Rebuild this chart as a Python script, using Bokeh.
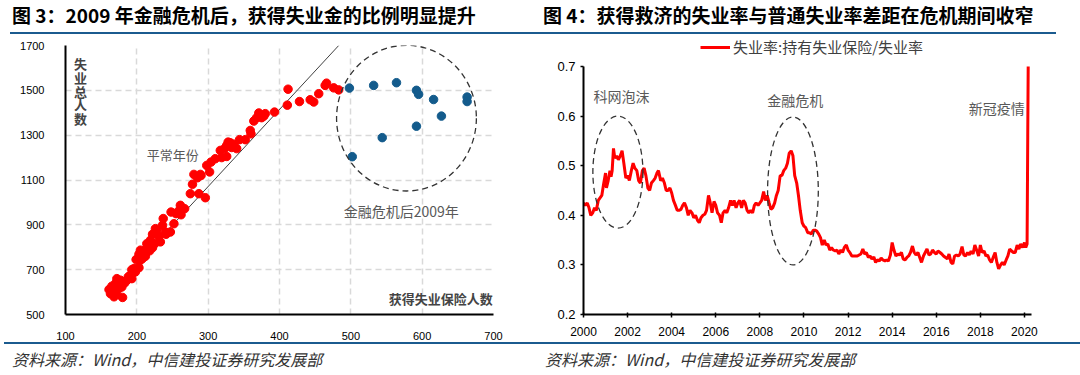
from bokeh.plotting import figure
from bokeh.models import Range1d, Label, Div, Legend, LegendItem, FixedTicker
from bokeh.layouts import row, column
from bokeh.embed import file_html
from bokeh.resources import INLINE

# ---------------- data: left panel (scatter) ----------------
normal_x = [412, 411, 428, 443, 448, 455, 464, 466, 476, 483, 393, 380, 371, 368, 375,
            364, 359, 360, 352, 344, 331, 326, 328, 323, 317, 326, 319, 310, 304, 298,
            302, 289, 280, 285, 278, 275, 287, 296, 267, 261, 255, 248, 252, 247, 241,
            237, 236, 226, 222, 231, 233, 225, 222, 218, 214, 210, 205, 203, 205, 199,
            203, 193, 198, 191, 193, 186, 183, 179, 172, 170, 165, 161, 163, 168, 170,
            175, 180, 173, 167, 177, 214, 219, 228, 212, 208, 196, 188, 171, 166, 240,
            258, 262, 290, 336, 333, 378, 340]
normal_y = [1505, 1434, 1450, 1458, 1448, 1485, 1522, 1532, 1511, 1502, 1403, 1396, 1399, 1378, 1378,
            1363, 1321, 1306, 1280, 1280, 1266, 1254, 1269, 1240, 1232, 1205, 1200, 1195, 1180, 1165,
            1136, 1125, 1125, 1110, 1081, 1039, 1039, 1021, 972, 987, 950, 957, 905, 868, 858,
            928, 898, 883, 858, 849, 824, 816, 798, 784, 794, 772, 787, 769, 742, 745,
            709, 700, 690, 675, 660, 653, 641, 623, 660, 638, 626, 611, 593, 579, 601,
            616, 576, 623, 608, 653, 816, 831, 876, 760, 750, 705, 668, 590, 605, 868,
            960, 945, 1120, 1260, 1245, 1385, 1240]
crisis_x = [498, 532, 564, 592, 595, 616, 627, 663, 663, 592, 544, 502]
crisis_y = [1510, 1522, 1534, 1500, 1482, 1459, 1385, 1470, 1450, 1340, 1289, 1204]
fit_x = [163, 483]
fit_y = [600, 1700]
circle_center = (578, 1376)
circle_size = (196, 650)
x_ticks_left = [100, 200, 300, 400, 500, 600, 700]
y_ticks_left = [500, 700, 900, 1100, 1300, 1500, 1700]

# ---------------- data: right panel (line) ----------------
t_year = [2000.00, 2000.08, 2000.17, 2000.25, 2000.33, 2000.42, 2000.50, 2000.58, 2000.67, 2000.75,
          2000.83, 2000.92, 2001.00, 2001.04, 2001.12, 2001.20, 2001.25, 2001.30, 2001.36, 2001.42,
          2001.50, 2001.58, 2001.67, 2001.75, 2001.83, 2001.92, 2002.00, 2002.08, 2002.17, 2002.25,
          2002.33, 2002.42, 2002.50, 2002.58, 2002.67, 2002.75, 2002.83, 2002.92, 2003.00, 2003.08,
          2003.17, 2003.25, 2003.33, 2003.40, 2003.50, 2003.58, 2003.67, 2003.75, 2003.83, 2003.92,
          2004.00, 2004.08, 2004.17, 2004.25, 2004.33, 2004.42, 2004.50, 2004.58, 2004.67, 2004.75,
          2004.83, 2004.92, 2005.00, 2005.08, 2005.17, 2005.25, 2005.33, 2005.42, 2005.50, 2005.58,
          2005.67, 2005.75, 2005.83, 2005.92, 2006.00, 2006.08, 2006.17, 2006.25, 2006.33, 2006.42,
          2006.50, 2006.58, 2006.67, 2006.75, 2006.83, 2006.92, 2007.00, 2007.08, 2007.17, 2007.25,
          2007.33, 2007.42, 2007.50, 2007.58, 2007.67, 2007.75, 2007.83, 2007.92, 2008.00, 2008.08,
          2008.17, 2008.25, 2008.33, 2008.42, 2008.50, 2008.58, 2008.67, 2008.75, 2008.83, 2008.92,
          2009.00, 2009.08, 2009.17, 2009.25, 2009.33, 2009.42, 2009.50, 2009.58, 2009.67, 2009.75,
          2009.83, 2009.92, 2010.00, 2010.08, 2010.17, 2010.25, 2010.33, 2010.42, 2010.50, 2010.58,
          2010.67, 2010.75, 2010.83, 2010.92, 2011.00, 2011.08, 2011.17, 2011.25, 2011.33, 2011.42,
          2011.50, 2011.58, 2011.67, 2011.75, 2011.83, 2011.92, 2012.00, 2012.08, 2012.17, 2012.25,
          2012.33, 2012.42, 2012.50, 2012.58, 2012.67, 2012.75, 2012.83, 2012.92, 2013.00, 2013.08,
          2013.17, 2013.25, 2013.33, 2013.42, 2013.50, 2013.58, 2013.67, 2013.75, 2013.83, 2013.92,
          2014.00, 2014.08, 2014.17, 2014.25, 2014.33, 2014.42, 2014.50, 2014.58, 2014.67, 2014.75,
          2014.83, 2014.92, 2015.00, 2015.08, 2015.17, 2015.25, 2015.33, 2015.42, 2015.50, 2015.58,
          2015.67, 2015.75, 2015.83, 2015.92, 2016.00, 2016.08, 2016.17, 2016.25, 2016.33, 2016.42,
          2016.50, 2016.58, 2016.67, 2016.75, 2016.83, 2016.92, 2017.00, 2017.08, 2017.17, 2017.25,
          2017.33, 2017.42, 2017.50, 2017.58, 2017.67, 2017.75, 2017.83, 2017.92, 2018.00, 2018.08,
          2018.17, 2018.25, 2018.33, 2018.42, 2018.50, 2018.58, 2018.67, 2018.75, 2018.83, 2018.92,
          2019.00, 2019.08, 2019.17, 2019.25, 2019.33, 2019.42, 2019.50, 2019.58, 2019.67, 2019.75,
          2019.83, 2019.92, 2020.00, 2020.06, 2020.12, 2020.15, 2020.17]
ratio = [0.425, 0.420, 0.425, 0.415, 0.400, 0.405, 0.415, 0.410, 0.430, 0.435,
         0.440, 0.465, 0.485, 0.455, 0.470, 0.490, 0.478, 0.490, 0.535, 0.515,
         0.520, 0.512, 0.520, 0.530, 0.505, 0.475, 0.480, 0.470, 0.490, 0.505,
         0.495, 0.490, 0.470, 0.465, 0.490, 0.495, 0.480, 0.455, 0.450, 0.465,
         0.470, 0.475, 0.485, 0.490, 0.470, 0.475, 0.465, 0.450, 0.450, 0.455,
         0.445, 0.430, 0.420, 0.410, 0.410, 0.412, 0.420, 0.425, 0.415, 0.400,
         0.410, 0.405, 0.395, 0.400, 0.390, 0.385, 0.395, 0.400, 0.402, 0.410,
         0.440, 0.425, 0.405, 0.428, 0.420, 0.405, 0.400, 0.385, 0.405, 0.410,
         0.405, 0.415, 0.430, 0.420, 0.430, 0.415, 0.425, 0.430, 0.415, 0.430,
         0.425, 0.410, 0.405, 0.410, 0.405, 0.420, 0.425, 0.420, 0.425, 0.430,
         0.448, 0.430, 0.440, 0.425, 0.412, 0.415, 0.425, 0.440, 0.450, 0.480,
         0.480, 0.490, 0.495, 0.505, 0.525, 0.530, 0.520, 0.480, 0.465, 0.440,
         0.410, 0.385, 0.378, 0.375, 0.365, 0.365, 0.362, 0.370, 0.370, 0.368,
         0.362, 0.355, 0.340, 0.350, 0.340, 0.342, 0.330, 0.335, 0.330, 0.328,
         0.330, 0.322, 0.330, 0.325, 0.335, 0.340, 0.330, 0.325, 0.318, 0.318,
         0.318, 0.318, 0.320, 0.322, 0.332, 0.322, 0.325, 0.315, 0.318, 0.312,
         0.316, 0.305, 0.310, 0.308, 0.314, 0.310, 0.308, 0.310, 0.308, 0.320,
         0.345, 0.330, 0.318, 0.322, 0.320, 0.325, 0.312, 0.310, 0.315, 0.318,
         0.325, 0.338, 0.325, 0.320, 0.325, 0.315, 0.305, 0.318, 0.325, 0.332,
         0.320, 0.322, 0.330, 0.325, 0.322, 0.328, 0.325, 0.322, 0.318, 0.315,
         0.312, 0.322, 0.305, 0.302, 0.318, 0.320, 0.318, 0.322, 0.337, 0.320,
         0.318, 0.325, 0.320, 0.328, 0.322, 0.340, 0.330, 0.318, 0.340, 0.325,
         0.328, 0.318, 0.320, 0.310, 0.305, 0.315, 0.325, 0.305, 0.292, 0.300,
         0.305, 0.300, 0.310, 0.318, 0.332, 0.328, 0.325, 0.325, 0.340, 0.332,
         0.342, 0.335, 0.345, 0.335, 0.342, 0.560, 0.700]
x_ticks_right = [2000, 2002, 2004, 2006, 2008, 2010, 2012, 2014, 2016, 2018, 2020]
y_ticks_right = [0.2, 0.3, 0.4, 0.5, 0.6, 0.7]
ellipse_dotcom = (2001.56, 0.487, 2.27, 0.226)
ellipse_gfc = (2009.50, 0.449, 2.30, 0.298)

title_left = "图 3：2009 年金融危机后，获得失业金的比例明显提升"
title_right = "图 4：获得救济的失业率与普通失业率差距在危机期间收窄"
source_text = "资料来源：Wind，中信建投证券研究发展部"
legend_label = "失业率:持有失业保险/失业率"
y_label_chars = ["失", "业", "总", "人", "数"]

CJK = "Noto Sans CJK SC"
NUM = "Liberation Sans"
RULE = "#1B5B8F"


def title_div(text, left_margin, line_width, pad):
    html = (f'<div style="box-sizing:border-box;margin-left:{left_margin}px;width:{line_width}px;height:34px;'
            f'border-bottom:2.5px solid {RULE};font-family:\'{CJK}\';font-weight:bold;font-size:19px;'
            f'line-height:30px;padding-left:{pad}px;color:#000;white-space:nowrap;overflow:hidden">{text}</div>')
    return Div(text=html, width=540, height=34, margin=0)


def source_div(text, left_margin, line_width, pad):
    html = (f'<div style="box-sizing:border-box;margin-left:{left_margin}px;width:{line_width}px;height:33px;'
            f'border-top:2.5px solid {RULE};font-family:\'{CJK}\';font-style:italic;font-size:16px;'
            f'line-height:30px;padding-left:{pad}px;color:#333;white-space:nowrap;overflow:hidden">{text}</div>')
    return Div(text=html, width=540, height=33, margin=0)


# ---------------- left figure ----------------
p1 = figure(width=540, height=308, output_backend="svg", toolbar_location=None,
            x_range=Range1d(100, 700), y_range=Range1d(500, 1700),
            min_border_left=65, min_border_right=47, min_border_top=11, min_border_bottom=28)
p1.outline_line_color = None
p1.background_fill_color = "white"
for ax in (p1.xaxis[0], p1.yaxis[0]):
    ax.axis_line_color = "black"
    ax.axis_line_width = 2
    ax.major_tick_line_color = None
    ax.minor_tick_line_color = None
    ax.major_label_text_font = NUM
    ax.major_label_text_font_size = "11px"
    ax.major_label_text_color = "#000"
p1.xaxis.ticker = FixedTicker(ticks=x_ticks_left)
p1.yaxis.ticker = FixedTicker(ticks=y_ticks_left)
p1.xaxis.major_label_standoff = 11
p1.yaxis.major_label_standoff = 15
p1.xgrid.ticker = FixedTicker(ticks=x_ticks_left[1:])
p1.ygrid.ticker = FixedTicker(ticks=y_ticks_left[1:])
for g in (p1.xgrid[0], p1.ygrid[0]):
    g.grid_line_color = "#D9D9D9"
    g.grid_line_width = 1.5
    g.grid_line_dash = "6 4"

p1.line(fit_x, fit_y, line_color="#404040", line_width=1)
p1.scatter(normal_x, normal_y, size=8.5, fill_color="#FF0000", line_color="#FF0000")
p1.scatter(crisis_x, crisis_y, size=8.5, fill_color="#135B8C", line_color="#135B8C")
p1.ellipse(x=[circle_center[0]], y=[circle_center[1]], width=circle_size[0], height=circle_size[1],
           fill_color=None, line_color="#333", line_width=1.3, line_dash="6 4")

for i, ch in enumerate(y_label_chars):
    p1.add_layout(Label(x=112, y=1660 - i * 61, text=ch, text_font=CJK, text_font_size="13px",
                        text_font_style="bold", text_baseline="top", text_align="left"))
p1.add_layout(Label(x=699, y=527, text="获得失业保险人数", text_font=CJK, text_font_size="13px",
                    text_font_style="bold", text_baseline="bottom", text_align="right"))
p1.add_layout(Label(x=214, y=1214, text="平常年份", text_font=CJK, text_font_size="13px",
                    text_color="#595959", text_baseline="middle", text_align="left"))
p1.add_layout(Label(x=490, y=960, text="金融危机后2009年", text_font=CJK, text_font_size="14px",
                    text_color="#595959", text_baseline="middle", text_align="left"))

# ---------------- right figure ----------------
# frame extends above 0.7 so the legend can sit inside it; the y axis line stops at 0.7
p2 = figure(width=540, height=308, output_backend="svg", toolbar_location=None,
            x_range=Range1d(2000, 2020.32), y_range=Range1d(0.2, 0.7645),
            min_border_left=43, min_border_right=49, min_border_top=0, min_border_bottom=28)
p2.outline_line_color = None
p2.xgrid.grid_line_color = None
p2.ygrid.grid_line_color = None
for ax in (p2.xaxis[0], p2.yaxis[0]):
    ax.axis_line_color = "black"
    ax.axis_line_width = 2
    ax.major_tick_line_color = "black"
    ax.major_tick_line_width = 1.5
    ax.minor_tick_line_color = None
    ax.major_label_text_font = NUM
    ax.major_label_text_color = "#000"
p2.xaxis.ticker = FixedTicker(ticks=x_ticks_right)
p2.yaxis.ticker = FixedTicker(ticks=y_ticks_right)
p2.yaxis.bounds = (0.2, 0.7)
p2.xaxis.major_tick_in = 2
p2.xaxis.major_tick_out = 3
p2.yaxis.major_tick_in = 0
p2.yaxis.major_tick_out = 3
p2.xaxis.major_label_text_font_size = "12px"
p2.yaxis.major_label_text_font_size = "13px"
p2.xaxis.major_label_standoff = 9
p2.yaxis.major_label_standoff = 5

r_line = p2.line(t_year, ratio, line_color="#FF0000", line_width=3)
for cx, cy, w, h in (ellipse_dotcom, ellipse_gfc):
    p2.ellipse(x=[cx], y=[cy], width=w, height=h, fill_color=None,
               line_color="#333", line_width=1.3, line_dash="6 4")

for x, y, t in ((2000.45, 0.6415, "科网泡沫"), (2008.33, 0.6315, "金融危机"), (2017.47, 0.617, "新冠疫情")):
    p2.add_layout(Label(x=x, y=y, text=t, text_font=CJK, text_font_size="14px",
                        text_color="#595959", text_baseline="middle", text_align="left"))

legend = Legend(items=[LegendItem(label=legend_label, renderers=[r_line])],
                location=(117, 257), orientation="horizontal",
                border_line_color=None, background_fill_alpha=0,
                padding=0, margin=0, glyph_width=30, glyph_height=18, label_standoff=3,
                label_text_font=CJK, label_text_font_size="15px", label_text_color="#404040")
p2.add_layout(legend, "center")

left = column(title_div(title_left, 10, 530, 2), p1, source_div(source_text, 4, 536, 8))
right = column(title_div(title_right, 0, 516, 3), p2, source_div(source_text, 0, 540, 5))
layout = row(left, right)

open("out.html", "w").write(file_html(layout, INLINE))
